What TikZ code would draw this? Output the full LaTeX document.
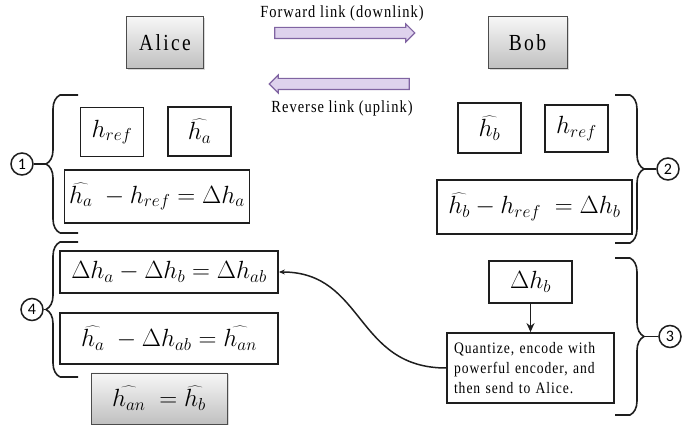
\documentclass[tikz,border=0pt]{standalone}
\usepackage{fontspec}
\setmainfont{Liberation Serif}[FakeStretch=0.85,LetterSpace=6]
\newfontfamily\partyfont{Liberation Serif}[FakeStretch=0.85,LetterSpace=10]
\newfontfamily\numfont{Carlito}
\usetikzlibrary{positioning,calc,arrows.meta,shapes.arrows,shadows,decorations.pathreplacing}
\definecolor{edgeDark}{RGB}{30,30,30}
\definecolor{partyTop}{RGB}{247,247,247}
\definecolor{partyBot}{RGB}{192,192,192}
\definecolor{linkFill}{RGB}{222,210,237}
\definecolor{linkEdge}{RGB}{128,100,162}

\begin{document}
\begin{tikzpicture}[x=1pt,y=1pt,
  party/.style={draw=gray!60!black,line width=0.9pt,top color=partyTop,
                bottom color=partyBot,
                drop shadow={shadow xshift=1.5pt,shadow yshift=-1.5pt,opacity=0.3},
                minimum width=77pt,minimum height=52pt,inner sep=0pt,
                font=\partyfont\fontsize{23}{27}\selectfont},
  eqbox/.style={draw=edgeDark,line width=1.8pt,fill=white,inner sep=0pt,
                font=\fontsize{24}{29}\selectfont},
  stepnum/.style={draw=edgeDark,circle,line width=1.5pt,minimum size=22pt,
                  inner sep=0pt,fill=white,font=\numfont\fontsize{16}{18}\selectfont},
  linkarrow/.style={single arrow,draw=linkEdge,line width=1.1pt,fill=linkFill,
                    minimum height=140pt,inner xsep=0pt,inner ysep=5pt,
                    single arrow head extend=3.5pt,single arrow head indent=0pt},
  lbl/.style={font=\fontsize{17}{20}\selectfont,inner sep=1pt},
  brc/.style={line width=1.6pt,draw=edgeDark},
  tr/.style={-{Stealth[length=9pt,width=8pt]},line width=1.8pt,draw=edgeDark}
]
\useasboundingbox (0,0) rectangle (697,-427);

% ==========  Parties and links (top)  ==========
\node[party] (alice) at (165,-42.5) {Alice};
\node[party,minimum width=79pt] (bob) at (527.5,-42.5) {Bob};

\node[linkarrow] (fwd) at (342,-33) {};
\node[linkarrow,shape border rotate=180] (rev) at (342,-84) {};
\node[lbl,above=5pt of fwd] (fwdlbl) {Forward link (downlink)};
\node[lbl,below=9pt of rev] (revlbl) {Reverse link (uplink)};

% ==========  Step 1: Alice  ==========
\node[eqbox,minimum width=63pt,minimum height=49pt] (hrefa) at (112,-132) {$h_{ref}$};
\node[eqbox,minimum width=63pt,minimum height=49pt] (ha) at (199.5,-131.5) {$\widehat{h_a}$};
\node[eqbox,minimum width=185pt,minimum height=53pt] (eqa) at (157,-196.5)
  {$\widehat{h_a}\;-h_{ref}=\Delta h_a$};

% ==========  Step 2: Bob  ==========
\node[eqbox,minimum width=63pt,minimum height=50pt] (hb) at (489.5,-128) {$\widehat{h_b}$};
\node[eqbox,minimum width=63pt,minimum height=47pt] (hrefb) at (576.5,-128.5) {$h_{ref}$};
\node[eqbox,minimum width=195pt,minimum height=54pt] (eqb) at (534.5,-207)
  {$\widehat{h_b}-h_{ref}\;=\Delta h_b$};

% ==========  Step 3: Bob feeds back  ==========
\node[eqbox,minimum width=83pt,minimum height=42pt] (dhb) at (530.5,-282) {$\Delta h_b$};
\node[eqbox,text width=153pt,inner xsep=7pt,inner ysep=5pt,minimum height=70pt,
      align=left,font=\fontsize{16}{20}\selectfont] (quant) at (530.5,-368)
  {Quantize, encode with\\powerful encoder, and\\then send to Alice.};

% ==========  Step 4: Alice corrects  ==========
\node[eqbox,minimum width=218pt,minimum height=42pt] (eqab) at (169,-272)
  {$\Delta h_a-\Delta h_b=\Delta h_{ab}$};
\node[eqbox,minimum width=218pt,minimum height=51pt] (eqan) at (169,-338.5)
  {$\widehat{h_a}\;-\Delta h_{ab}=\widehat{h_{an}}$};
\node[party,minimum width=136pt,minimum height=51pt,font=\fontsize{24}{29}\selectfont]
  (result) at (159,-398.5) {$\widehat{h_{an}}\;=\widehat{h_b}$};

% ==========  Transitions  ==========
\draw[tr] (dhb.south) -- (quant.north);
\draw[-{Stealth[length=6pt,width=5pt]},line width=1.5pt,draw=edgeDark]
  (quant.west) .. controls (355,-368) and (365,-272) .. (eqab.east);

% ==========  Braces and step numbers  ==========
% hooks run out to the boxes, the curly part is a short brace
\draw[brc] (78,-233) -- (60,-233) coordinate (b1s)
  decorate[decoration={brace,amplitude=14pt}] {-- (60,-95) coordinate (b1e)} -- (78,-95);
\draw[brc] (615,-95) -- (630,-95) coordinate (b2s)
  decorate[decoration={brace,amplitude=14pt}] {-- (630,-243) coordinate (b2e)} -- (615,-243);
\draw[brc] (615,-258) -- (630,-258) coordinate (b3s)
  decorate[decoration={brace,amplitude=14pt}] {-- (630,-415) coordinate (b3e)} -- (615,-415);
\draw[brc] (78,-377) -- (60,-377) coordinate (b4s)
  decorate[decoration={brace,amplitude=14pt}] {-- (60,-242) coordinate (b4e)} -- (78,-242);
\coordinate (b1tip) at ($(b1s)!0.5!(b1e)+(-14,0)$);
\coordinate (b2tip) at ($(b2s)!0.5!(b2e)+(14,0)$);
\coordinate (b3tip) at ($(b3s)!0.5!(b3e)+(14,0)$);
\coordinate (b4tip) at ($(b4s)!0.5!(b4e)+(-14,0)$);

\node[stepnum] (s1) at (22,-164) {1};
\node[stepnum] (s2) at (668,-169) {2};
\node[stepnum] (s3) at (670,-336.5) {3};
\node[stepnum] (s4) at (32,-309.5) {4};
\draw[line width=1.6pt,draw=edgeDark] (s1) -- (b1tip);
\draw[line width=1.6pt,draw=edgeDark] (s2) -- (b2tip);
\draw[line width=1.6pt,draw=edgeDark] (s3) -- (b3tip);
\draw[line width=1.6pt,draw=edgeDark] (s4) -- (b4tip);

\end{tikzpicture}
\end{document}
